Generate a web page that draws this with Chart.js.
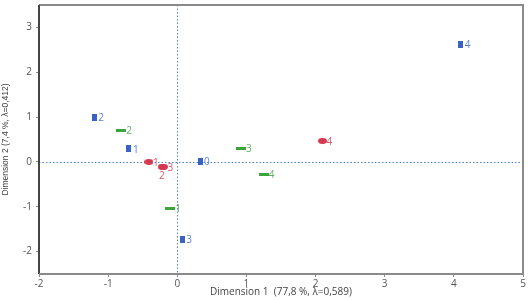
<!DOCTYPE html>
<html><head><meta charset="utf-8">
<script src="https://cdn.jsdelivr.net/npm/chart.js@4/dist/chart.umd.min.js"></script>
<style>html,body{margin:0;padding:0;background:#fff}#wrap{width:528px;height:300px}</style>
</head><body><div id="wrap"><canvas id="c" width="528" height="300"></canvas></div>
<script>
// Data
const blueLabels = ['0','1','2','3','4'];
const blueX = [0.33, -0.70, -1.20, 0.07, 4.10];
const blueY = [0.02, 0.29, 0.99, -1.73, 2.62];

const greenLabels = ['1','2','3','4'];
const greenX = [-0.10, -0.81, 0.92, 1.25];
const greenY = [-1.04, 0.71, 0.31, -0.27];

const redLabels = ['1','2','3','4'];
const redX = [-0.41, -0.22, -0.20, 2.10];
const redY = [0.00, -0.11, -0.11, 0.47];

const xTickValues = [-2, -1, 0, 1, 2, 3, 4, 5];
const yTickValues = [-2, -1, 0, 1, 2, 3];

const xTitle = 'Dimension 1  (77,8 %, \u03bb=0,589)';
const yTitle = 'Dimension 2 (7,4 %, \u03bb=0,412)';

function mk(w,h,fn){const c=document.createElement('canvas');c.width=w;c.height=h;fn(c.getContext('2d'),w,h);return c;}
const blueMark = mk(5,7,(g,w,h)=>{g.fillStyle='#3a62c4';g.fillRect(0,0,w,h);});
const greenMark = mk(10,3,(g,w,h)=>{g.fillStyle='#3aa53a';g.fillRect(0,0,w,h);});
const redMark = mk(9,6,(g,w,h)=>{g.fillStyle='#d5384f';g.beginPath();g.ellipse(w/2,h/2,w/2,h/2,0,0,Math.PI*2);g.fill();});

function pts(xs,ys){return xs.map((x,i)=>({x:x,y:ys[i]}));}

const labelPlugin = {
  id:'ptlabels',
  afterDatasetsDraw(chart){
    const ctx=chart.ctx; ctx.save();
    ctx.font='10px "Open Sans", "DejaVu Sans", sans-serif';
    ctx.textBaseline='middle';
    chart.data.datasets.forEach((ds,di)=>{
      const meta=chart.getDatasetMeta(di);
      meta.data.forEach((el,i)=>{
        const lab=ds.pointLabels[i];
        ctx.fillStyle=ds.labelColor;
        let dx=ds.labelDx, dy=0;
        if(ds.below && ds.below[i]){dx=-3;dy=8;}
        ctx.textAlign='left';
        ctx.fillText(lab, el.x+dx, el.y+dy+1);
      });
    });
    ctx.restore();
  }
};

const framePlugin = {
  id:'frame',
  beforeDatasetsDraw(chart){
    const {ctx,chartArea:a,scales}=chart;
    ctx.save();
    ctx.strokeStyle='#4f7fdc'; ctx.lineWidth=1; ctx.setLineDash([1.5,2]);
    const x0=Math.round(scales.x.getPixelForValue(0))+0.5;
    const y0=Math.round(scales.y.getPixelForValue(0))+0.5;
    ctx.beginPath(); ctx.moveTo(x0,a.top); ctx.lineTo(x0,a.bottom); ctx.stroke();
    ctx.beginPath(); ctx.moveTo(a.left,y0); ctx.lineTo(a.right,y0); ctx.stroke();
    ctx.setLineDash([]);
    ctx.strokeStyle='#8a8a8a'; ctx.lineWidth=2;
    ctx.beginPath(); ctx.moveTo(a.left,a.top); ctx.lineTo(a.right,a.top); ctx.lineTo(a.right,a.bottom); ctx.stroke();
    ctx.strokeStyle='#444'; ctx.lineWidth=2;
    ctx.beginPath(); ctx.moveTo(a.left,a.top); ctx.lineTo(a.left,a.bottom); ctx.stroke();
    ctx.strokeStyle='#8a8a8a';
    ctx.beginPath(); ctx.moveTo(a.left,a.bottom); ctx.lineTo(a.right,a.bottom); ctx.stroke();
    ctx.restore();
  }
};

function noPad(s){s.paddingTop=0;s.paddingBottom=0;s.paddingLeft=0;s.paddingRight=0;}

const font='"Open Sans", "DejaVu Sans", sans-serif';
new Chart(document.getElementById('c'),{
  type:'scatter',
  data:{datasets:[
    {data:pts(blueX,blueY),pointStyle:blueMark,pointLabels:blueLabels,labelColor:'#5b7fd0',labelDx:4},
    {data:pts(greenX,greenY),pointStyle:greenMark,pointLabels:greenLabels,labelColor:'#5fb35f',labelDx:5},
    {data:pts(redX,redY),pointStyle:redMark,pointLabels:redLabels,labelColor:'#d65a6c',labelDx:4,below:[false,true,false,false]}
  ]},
  options:{
    responsive:false,animation:false,
    layout:{padding:{top:4,right:5,left:0,bottom:0}},
    plugins:{legend:{display:false},tooltip:{enabled:false}},
    scales:{
      x:{type:'linear',min:-2,max:5,
        border:{display:false},
        grid:{drawOnChartArea:false,drawTicks:true,tickLength:3,color:'#8a8a8a'},
        ticks:{color:'#555',font:{family:font,size:10},padding:1,maxRotation:0},
        afterBuildTicks(s){s.ticks=xTickValues.map(v=>({value:v}));},
        title:{display:true,text:xTitle,color:'#444',font:{family:font,size:10},padding:{top:0,bottom:2}},
        afterFit(s){s.height=26;noPad(s);}
      },
      y:{type:'linear',min:-2.5,max:3.5,
        border:{display:false},
        grid:{drawOnChartArea:false,drawTicks:true,tickLength:3,color:'#8a8a8a'},
        ticks:{color:'#555',font:{family:font,size:10},padding:4},
        afterBuildTicks(s){s.ticks=yTickValues.map(v=>({value:v}));},
        title:{display:true,text:yTitle,color:'#444',font:{family:'"Liberation Sans", Arial, sans-serif',size:8.5},padding:{top:1,bottom:2}},
        afterFit(s){s.width=39;noPad(s);}
      }
    }
  },
  plugins:[framePlugin,labelPlugin]
});
</script></body></html>
